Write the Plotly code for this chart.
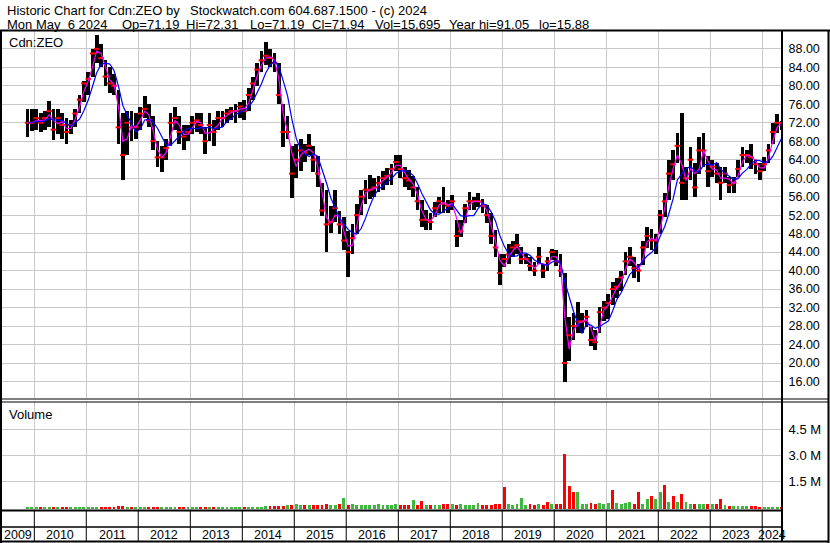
import pandas as pd
import plotly.graph_objects as go

# ---------------- data (monthly, Nov 2009 .. May 2024) ----------------
first_month = "2009-11-01"

high = [
    74.9, 75.0,
    75.0, 74.0, 74.5, 76.7, 75.0, 75.0, 74.0, 73.0, 72.5, 75.0, 78.0, 81.0,
    83.0, 88.0, 91.05, 89.0, 85.5, 84.0, 82.5, 79.0, 74.0, 74.5, 74.5, 74.0,
    75.5, 77.7, 76.0, 73.5, 68.0, 67.0, 68.5, 74.0, 75.5, 73.5, 71.5, 71.5,
    73.5, 74.0, 74.0, 71.0, 74.0, 72.5, 74.5, 74.5, 75.0, 75.5, 76.0, 76.5,
    77.0, 79.5, 82.0, 85.0, 87.5, 89.5, 88.0, 87.0, 85.0, 76.0, 73.5, 67.0,
    67.5, 68.5, 67.5, 69.6, 67.0, 64.7, 58.9, 57.5, 54.0, 57.5, 53.0, 51.5,
    48.5, 50.0, 54.5, 57.5, 59.5, 60.6, 60.0, 60.5, 61.5, 62.3, 63.0, 65.1,
    65.0, 62.5, 61.8, 60.4, 58.2, 55.3, 53.1, 52.4, 54.9, 56.0, 58.2, 55.3,
    56.4, 50.9, 50.9, 54.5, 57.1, 56.0, 56.7, 55.6, 54.2, 52.4, 48.7, 43.6,
    43.6, 45.8, 46.5, 48.0, 45.1, 43.6, 42.9, 41.8, 45.0, 41.5, 42.9, 44.7,
    44.5, 43.7, 39.5, 30.0, 30.8, 33.3, 30.8, 31.5, 27.9, 27.2, 32.2, 33.5,
    35.0, 37.5, 38.5, 40.0, 44.0, 45.0, 43.0, 41.5, 46.5, 49.5, 49.0, 48.0,
    53.1, 56.7, 64.0, 66.0, 69.7, 74.0, 62.5, 66.8, 63.2, 69.0, 69.7, 64.7,
    64.0, 63.2, 62.5, 62.5, 60.3, 60.3, 64.0, 66.8, 66.1, 67.5, 64.0, 63.2,
    64.6, 67.5, 71.9, 73.8, 72.31,
]

low = [
    68.9, 70.3,
    70.5, 70.0, 70.5, 71.0, 68.2, 69.5, 68.5, 67.5, 69.5, 71.0, 74.0, 76.5,
    78.0, 82.0, 85.0, 84.0, 80.0, 78.5, 78.0, 67.5, 59.6, 65.0, 68.0, 68.5,
    70.5, 73.0, 71.0, 66.0, 62.5, 61.3, 64.0, 67.0, 70.5, 67.5, 66.0, 68.0,
    69.5, 70.0, 69.5, 65.3, 68.0, 67.0, 70.5, 71.0, 72.0, 72.5, 72.0, 73.0,
    72.5, 74.5, 77.0, 80.0, 83.0, 84.5, 84.0, 83.0, 76.0, 66.7, 68.5, 55.7,
    60.0, 61.5, 63.5, 65.0, 61.3, 58.2, 51.8, 44.1, 48.2, 50.5, 48.0, 44.5,
    38.6, 43.5, 48.0, 52.0, 54.5, 55.5, 56.0, 57.0, 57.5, 58.5, 58.5, 61.5,
    60.0, 58.2, 57.5, 56.0, 53.1, 49.5, 48.7, 48.7, 51.6, 52.4, 52.4, 52.4,
    53.1, 45.1, 47.3, 50.2, 53.1, 53.1, 53.8, 52.4, 50.2, 45.8, 42.9, 36.9,
    40.7, 41.5, 42.9, 43.5, 41.5, 41.5, 40.0, 38.9, 41.5, 38.5, 40.0, 42.2,
    40.9, 38.7, 15.88, 20.5, 25.0, 26.4, 26.4, 27.9, 23.6, 22.8, 26.4, 29.0,
    29.5, 32.5, 34.0, 35.5, 39.0, 41.0, 38.5, 37.6, 41.2, 44.8, 44.5, 43.5,
    48.0, 51.6, 55.3, 59.6, 63.2, 55.3, 55.3, 59.6, 56.0, 61.0, 62.5, 58.1,
    60.3, 58.9, 55.3, 58.9, 56.7, 56.7, 60.3, 62.5, 63.2, 62.0, 61.0, 59.6,
    61.5, 63.2, 67.5, 69.7, 70.5,
]

close = [
    72.0, 72.0,
    73.0, 72.0, 73.0, 74.5, 70.5, 73.0, 71.5, 70.0, 71.5, 74.0, 77.0, 80.5,
    81.5, 87.0, 88.0, 86.0, 82.0, 80.5, 80.0, 71.0, 65.0, 72.0, 71.0, 71.0,
    74.0, 75.0, 72.5, 68.0, 64.5, 64.5, 66.5, 72.0, 73.0, 70.0, 69.0, 70.0,
    72.0, 72.5, 71.5, 68.0, 71.5, 70.0, 73.0, 73.0, 74.0, 74.5, 74.5, 75.5,
    74.5, 78.0, 80.5, 83.5, 85.5, 86.5, 86.0, 85.0, 78.0, 70.0, 70.0, 61.0,
    64.0, 66.0, 65.5, 67.0, 64.0, 61.0, 53.0, 50.0, 50.5, 53.5, 50.0, 46.5,
    44.0, 47.0, 52.0, 56.0, 57.5, 57.5, 58.0, 59.0, 60.0, 60.5, 62.0, 63.5,
    62.0, 60.0, 59.5, 58.0, 55.0, 51.0, 51.0, 50.5, 53.5, 55.0, 54.5, 54.0,
    55.0, 47.5, 48.5, 53.5, 55.0, 55.0, 55.0, 54.0, 52.0, 47.5, 45.0, 39.5,
    42.5, 43.5, 45.0, 45.5, 42.5, 42.5, 41.0, 40.0, 43.0, 40.0, 42.0, 44.0,
    42.0, 40.0, 20.0, 26.0, 28.0, 29.0, 29.0, 30.0, 25.0, 24.5, 31.0, 32.0,
    33.0, 36.0, 36.5, 38.5, 42.0, 43.0, 40.5, 40.0, 45.0, 47.5, 46.5, 46.5,
    52.0, 55.0, 61.0, 63.0, 67.0, 59.0, 60.0, 64.0, 58.0, 66.0, 66.0, 61.5,
    62.5, 61.0, 59.0, 61.0, 58.5, 59.0, 62.0, 65.0, 65.0, 64.5, 63.0, 61.5,
    63.0, 66.0, 70.0, 72.0, 71.94,
]

volume_m = [
    0.03, 0.02,
    0.03, 0.02, 0.03, 0.02, 0.03, 0.02, 0.03, 0.02, 0.02, 0.03, 0.03, 0.02,
    0.02, 0.03, 0.03, 0.02, 0.03, 0.02, 0.03, 0.04, 0.05, 0.03, 0.03, 0.02,
    0.02, 0.03, 0.02, 0.03, 0.02, 0.03, 0.02, 0.02, 0.03, 0.02, 0.03, 0.02,
    0.02, 0.03, 0.02, 0.03, 0.02, 0.03, 0.02, 0.02, 0.03, 0.02, 0.03, 0.02,
    0.02, 0.03, 0.02, 0.03, 0.03, 0.04, 0.05, 0.05, 0.06, 0.08, 0.10, 0.12,
    0.17, 0.12, 0.10, 0.10, 0.12, 0.10, 0.12, 0.15, 0.12, 0.10, 0.15, 0.50,
    0.12, 0.15, 0.12, 0.10, 0.10, 0.12, 0.10, 0.15, 0.12, 0.10, 0.12, 0.15,
    0.10, 0.12, 0.10, 0.42, 0.12, 0.36, 0.10, 0.12, 0.10, 0.10, 0.17, 0.17,
    0.15, 0.12, 0.15, 0.10, 0.12, 0.10, 0.23, 0.12, 0.10, 0.12, 0.15, 0.17,
    1.17, 0.17, 0.12, 0.15, 0.54, 0.12, 0.15, 0.10, 0.15, 0.12, 0.30, 0.15,
    0.15, 0.20, 3.05, 1.23, 0.85, 0.85, 0.20, 0.20, 0.25, 0.20, 0.25, 0.20,
    0.25, 1.00, 0.25, 0.20, 0.25, 0.27, 0.20, 0.85, 0.20, 0.46, 0.65, 0.46,
    0.85, 1.29, 0.30, 0.61, 0.30, 0.73, 0.27, 0.20, 0.15, 0.17, 0.15, 0.20,
    0.17, 0.15, 0.46, 0.10, 0.08, 0.06, 0.05, 0.05, 0.04, 0.04, 0.04, 0.03,
    0.03, 0.03, 0.03, 0.03, 0.02,
]

vol_up = [
    1, 1,
    1, 0, 1, 1, 0, 1, 0, 0, 1, 1, 1, 1,
    1, 1, 1, 0, 0, 0, 0, 0, 0, 1, 0, 1,
    1, 1, 0, 0, 0, 1, 1, 1, 1, 0, 0, 1,
    1, 1, 0, 0, 1, 0, 1, 1, 1, 1, 1, 1,
    0, 1, 1, 1, 1, 1, 0, 0, 0, 0, 1, 0,
    1, 1, 0, 1, 0, 0, 0, 0, 1, 1, 0, 1,
    0, 1, 1, 1, 1, 1, 1, 1, 1, 1, 1, 1,
    0, 0, 0, 1, 0, 0, 1, 0, 1, 1, 0, 0,
    1, 0, 1, 1, 1, 1, 1, 0, 0, 0, 0, 0,
    0, 1, 1, 1, 1, 1, 0, 0, 1, 0, 0, 1,
    0, 0, 0, 0, 0, 1, 1, 1, 0, 0, 1, 1,
    1, 0, 1, 1, 1, 1, 0, 0, 1, 1, 0, 1,
    1, 0, 1, 0, 1, 0, 1, 1, 0, 1, 1, 0,
    1, 0, 0, 1, 0, 1, 1, 1, 1, 0, 0, 0,
    1, 1, 1, 1, 0,
]

years = list(range(2009, 2025))
price_ticks = list(range(16, 89, 4))
volume_ticks = [1.5, 3.0, 4.5]
x_start, x_end = "2009-05-19", "2024-05-19"

# header text pieces (text, left pixel)
header1_parts = [("Historic Chart for Cdn:ZEO by", 6), ("Stockwatch.com 604.687.1500 - (c) 2024", 189)]
header2_parts = [("Mon May\u00a0\u00a06 2024", 6), ("Op=71.19", 121), ("Hi=72.31", 185),
                 ("Lo=71.19", 249), ("Cl=71.94", 311), ("Vol=15,695", 374),
                 ("Year hi=91.05", 448), ("lo=15.88", 538)]

# ---------------- derived ----------------
dates = pd.date_range(first_month, periods=len(close), freq="MS") + pd.Timedelta(days=14)
rng = [h - l for h, l in zip(high, low)]
ma_short = pd.Series(close).rolling(2, min_periods=1).mean()
ma_long = pd.Series(close).rolling(5, min_periods=1).mean()
vol_base = -0.12
vol_h = [v - vol_base for v in volume_m]
vol_colors = ["#3cb83c" if u else "#ff0000" for u in vol_up]

DAY = 86400000
W, H = 830, 543
ML, MR, MT, MB = 2, 48, 31, 33
PW, PH = W - ML - MR, H - MT - MB


def px(x):
    return (x - ML) / PW


def py(y):
    return (H - MB - y) / PH


FONT = "Liberation Sans, Arial, sans-serif"
GRID = "#c8c8c8"

fig = go.Figure()
fig.add_trace(go.Bar(x=dates, y=rng, base=low, width=26 * DAY,
                     marker=dict(color="black", line=dict(width=0)),
                     xaxis="x", yaxis="y", hoverinfo="skip"))
fig.add_trace(go.Scatter(x=dates, y=close, mode="markers",
                         marker=dict(symbol="line-ew", size=4,
                                     line=dict(color="#ff0000", width=2)),
                         xaxis="x", yaxis="y", hoverinfo="skip"))
fig.add_trace(go.Scatter(x=dates, y=ma_short, mode="lines",
                         line=dict(color="#ff00ff", width=1.2),
                         xaxis="x", yaxis="y", hoverinfo="skip"))
fig.add_trace(go.Scatter(x=dates, y=ma_long, mode="lines",
                         line=dict(color="#0000ff", width=1.2),
                         xaxis="x", yaxis="y", hoverinfo="skip"))
fig.add_trace(go.Bar(x=dates, y=vol_h, base=vol_base, width=20 * DAY,
                     marker=dict(color=vol_colors, line=dict(width=0)),
                     xaxis="x2", yaxis="y2", hoverinfo="skip"))

year_starts = [f"{y}-01-01" for y in years[1:]]
price_dom = [py(398), 1]
vol_dom = [0, py(402)]

axis_common = dict(showgrid=True, gridcolor=GRID, gridwidth=1, zeroline=False,
                   showline=False)

fig.update_layout(
    width=W, height=H,
    margin=dict(l=ML, r=MR, t=MT, b=MB, pad=0, autoexpand=False),
    paper_bgcolor="white", plot_bgcolor="white",
    showlegend=False, barmode="overlay", bargap=0,
    font=dict(family=FONT, size=13, color="black"),
    xaxis=dict(domain=[0, 1], range=[x_start, x_end], anchor="y", type="date",
               tickvals=year_starts, showticklabels=False, ticks="", **axis_common),
    xaxis2=dict(domain=[0, 1], range=[x_start, x_end], anchor="y2", type="date",
                matches="x", tickvals=year_starts, showticklabels=False, ticks="",
                **axis_common),
    yaxis=dict(domain=price_dom, range=[12.43, 91.85], side="right", anchor="x",
               tickvals=price_ticks, ticktext=[f"{v:.2f}" for v in price_ticks],
               ticks="outside", ticklen=3, tickcolor="rgba(0,0,0,0)",
               tickfont=dict(size=12.5, family=FONT, color="black"), **axis_common),
    yaxis2=dict(domain=vol_dom, range=[-0.17, 6.06], side="right", anchor="x2",
                tickvals=volume_ticks, ticktext=[f"{v:.1f} M" for v in volume_ticks],
                ticks="outside", ticklen=3, tickcolor="rgba(0,0,0,0)",
                tickfont=dict(size=13, family=FONT, color="black"), **axis_common),
)

shapes = []


def hline(y, x0, x1, w):
    shapes.append(dict(type="line", xref="paper", yref="paper", x0=px(x0), x1=px(x1),
                       y0=py(y), y1=py(y), line=dict(color="black", width=w)))


def vline(x, y0, y1, w):
    shapes.append(dict(type="line", xref="paper", yref="paper", x0=px(x), x1=px(x),
                       y0=py(y0), y1=py(y1), line=dict(color="black", width=w)))


hline(30.5, 0, 830, 2)
vline(1, 30, 543, 2)
vline(782, 30, 542, 2)
vline(828.5, 30, 543, 2)
hline(399, 0, 829, 1.2)
hline(402, 0, 829, 1.2)
hline(510.5, 0, 782, 2)
hline(527, 0, 782, 1.5)
hline(541.5, 0, 829, 2)
for ys in year_starts:
    shapes.append(dict(type="line", xref="x", yref="paper", x0=ys, x1=ys,
                       y0=py(510), y1=py(541), line=dict(color="black", width=1)))
fig.update_layout(shapes=shapes)

ann = []
for text, xl in header1_parts:
    ann.append(dict(text=text, x=px(xl), y=py(10.2)))
for text, xl in header2_parts:
    ann.append(dict(text=text, x=px(xl), y=py(24.2)))
ann.append(dict(text="Cdn:ZEO", x=px(8), y=py(42.3)))
ann.append(dict(text="Volume", x=px(8), y=py(414)))
for a_ in ann:
    a_.update(xref="paper", yref="paper", xanchor="left", yanchor="middle",
              borderpad=0, font=dict(size=13))

t0, t1 = pd.Timestamp(x_start), pd.Timestamp(x_end)
for y in years:
    a = max(pd.Timestamp(f"{y}-01-01"), t0)
    b = min(pd.Timestamp(f"{y + 1}-01-01"), t1)
    mid = a + (b - a) / 2
    ann.append(dict(text=str(y), x=mid, xref="x", y=py(535), yref="paper",
                    xanchor="center", yanchor="middle", font=dict(size=12.5)))
for a_ in ann:
    a_["showarrow"] = False
fig.update_layout(annotations=ann)

fig.write_html("out.html", config={"displayModeBar": False},
               post_script="document.body.style.margin='0';document.body.style.padding='0';")
